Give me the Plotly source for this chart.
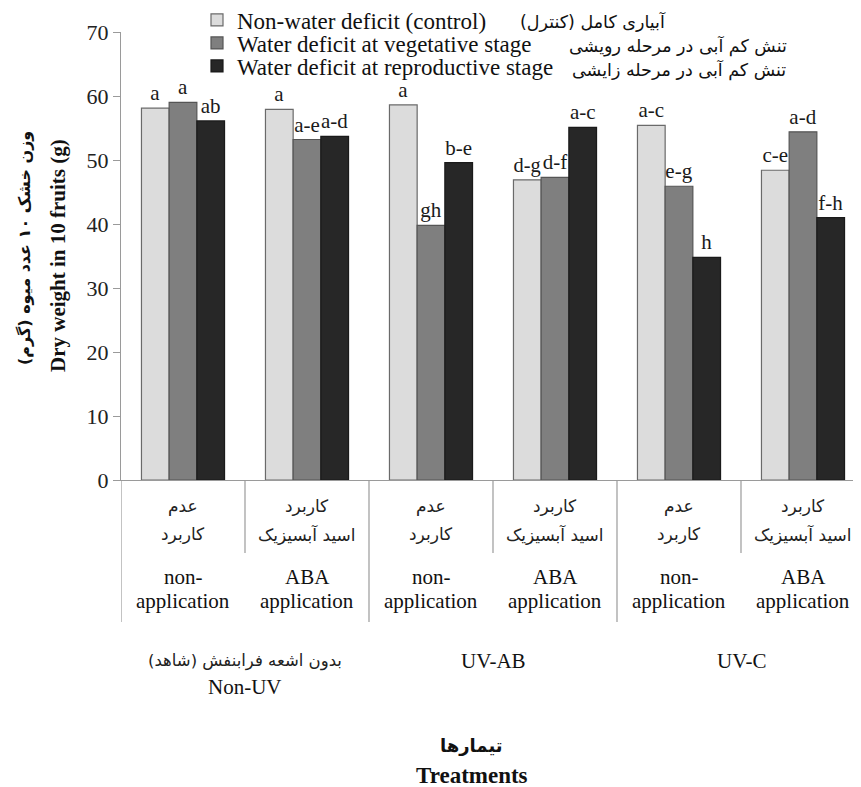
import plotly.graph_objects as go

# ---------------- data ----------------
groups_en = ["Non-UV", "UV-AB", "UV-C"]
groups_fa = ["بدون اشعه فرابنفش (شاهد)", "", ""]
sub_en = ["non-<br>application", "ABA<br>application",
          "non-<br>application", "ABA<br>application",
          "non-<br>application", "ABA<br>application"]
sub_fa = ["عدم<br>کاربرد", "کاربرد<br>اسید آبسیزیک",
          "عدم<br>کاربرد", "کاربرد<br>اسید آبسیزیک",
          "عدم<br>کاربرد", "کاربرد<br>اسید آبسیزیک"]

series_en = ["Non-water deficit (control)",
             "Water deficit at vegetative stage",
             "Water deficit at reproductive stage"]
series_fa = ["آبیاری کامل (کنترل)",
             "تنش کم آبی در مرحله رویشی",
             "تنش کم آبی در مرحله زایشی"]

control = [58.1, 57.9, 58.6, 46.9, 55.4, 48.4]
vegetative = [59.0, 53.2, 39.8, 47.3, 45.9, 54.4]
reproductive = [56.1, 53.7, 49.6, 55.1, 34.8, 41.0]

letters_control = ["a", "a", "a", "d-g", "a-c", "c-e"]
letters_vegetative = ["a", "a-e", "gh", "d-f", "e-g", "a-d"]
letters_reproductive = ["ab", "a-d", "b-e", "a-c", "h", "f-h"]

y_ticks = [0, 10, 20, 30, 40, 50, 60, 70]

y_title_en = "Dry weight in 10 fruits (g)"
y_title_fa = "وزن خشک ۱۰ عدد میوه (گرم)"
x_title_en = "Treatments"
x_title_fa = "تیمارها"

# ---------------- styling ----------------
SERIF = "Liberation Serif, Times New Roman, serif"
FA = "DejaVu Sans, Noto Sans, sans-serif"
colors = ["#DCDCDC", "#7F7F7F", "#272727"]
edge = ["#6A6A6A", "#555555", "#1A1A1A"]
AXIS = "#9A9A9A"

BODY = 8  # page margin of the browser
W, H = 861 - BODY, 787 - BODY
ML, MR, MT, MB = 121 - BODY, 0, 32 - BODY, 787 - 480
plot_w = W - ML - MR
plot_h = H - MT - MB
cat_px = 124.0

xpos = [i + 0.5 for i in range(len(control))]


def py(p):
    """reference pixel row -> paper y"""
    return (H - MB - (p - BODY)) / plot_h


def pxx(p):
    """reference pixel column -> paper x"""
    return (p - BODY - ML) / plot_w


fig = go.Figure()
legend_ids = ["legend", "legend2", "legend3"]
for vals, letters, name, c, e, lg in zip(
        [control, vegetative, reproductive],
        [letters_control, letters_vegetative, letters_reproductive],
        series_en, colors, edge, legend_ids):
    fig.add_trace(go.Bar(
        x=xpos, y=vals, name=name, text=letters, legend=lg,
        textposition="outside", cliponaxis=False,
        textfont=dict(family=SERIF, size=21, color="#1a1a1a"),
        marker=dict(color=c, line=dict(color=e, width=1.2)),
    ))

annotations = []
# sub-category labels (two lines each, placed separately)
for i in range(len(xpos)):
    for line, yy in zip(sub_fa[i].split("<br>"), [506, 534]):
        annotations.append(dict(x=xpos[i], y=py(yy), xref="x", yref="paper",
                                text=line, showarrow=False, yanchor="middle",
                                font=dict(family=FA, size=17, color="#222")))
    for line, yy in zip(sub_en[i].split("<br>"), [577, 601]):
        annotations.append(dict(x=xpos[i], y=py(yy), xref="x", yref="paper",
                                text=line, showarrow=False, yanchor="middle",
                                font=dict(family=SERIF, size=21, color="#111")))
# group labels
for g in range(len(groups_en)):
    gx = 2 * g + 1
    if groups_fa[g]:
        annotations.append(dict(x=gx, y=py(661), xref="x", yref="paper",
                                text=groups_fa[g], showarrow=False, yanchor="middle",
                                font=dict(family=FA, size=16.5, color="#222")))
        annotations.append(dict(x=gx, y=py(687), xref="x", yref="paper",
                                text=groups_en[g], showarrow=False, yanchor="middle",
                                font=dict(family=SERIF, size=21, color="#111")))
    else:
        annotations.append(dict(x=gx, y=py(661), xref="x", yref="paper",
                                text=groups_en[g], showarrow=False, yanchor="middle",
                                font=dict(family=SERIF, size=21, color="#111")))
# axis titles
annotations.append(dict(x=pxx(471), y=py(745), xref="paper", yref="paper",
                        text="<b>" + x_title_fa + "</b>", showarrow=False, yanchor="middle",
                        font=dict(family=FA, size=18, color="#111")))
annotations.append(dict(x=pxx(472), y=py(775), xref="paper", yref="paper",
                        text="<b>" + x_title_en + "</b>", showarrow=False, yanchor="middle",
                        font=dict(family=SERIF, size=23, color="#111")))
annotations.append(dict(x=pxx(58), y=py(256), xref="paper", yref="paper",
                        text="<b>" + y_title_en + "</b>", showarrow=False, textangle=-90,
                        xanchor="center", yanchor="middle",
                        font=dict(family=SERIF, size=21, color="#111")))
annotations.append(dict(x=pxx(25), y=py(248), xref="paper", yref="paper",
                        text="<b>" + y_title_fa + "</b>", showarrow=False, textangle=-90,
                        xanchor="center", yanchor="middle",
                        font=dict(family=FA, size=16, color="#111")))
# persian legend texts
for txt, lx, ly in zip(series_fa, [518, 567, 570], [21, 46, 70]):
    annotations.append(dict(x=pxx(lx), y=py(ly), xref="paper", yref="paper",
                            text=txt, showarrow=False, xanchor="left", yanchor="middle",
                            font=dict(family=FA, size=17.5, color="#111")))

# divider lines under the x axis
shapes = []
for k in range(0, 7):
    long_line = (k % 2 == 0)
    shapes.append(dict(type="line", xref="x", yref="paper", x0=k, x1=k,
                       y0=0, y1=py(622 if long_line else 553),
                       line=dict(color=AXIS, width=1.2)))

legend_style = dict(xanchor="left", yanchor="middle", bgcolor="rgba(0,0,0,0)",
                    font=dict(family=SERIF, size=23, color="#111"), itemwidth=30)

fig.update_layout(
    width=W, height=H,
    margin=dict(l=ML, r=MR, t=MT, b=MB, autoexpand=False),
    paper_bgcolor="white", plot_bgcolor="white",
    barmode="group", bargap=0.33, bargroupgap=0,
    showlegend=True,
    legend=dict(x=pxx(197), y=py(20), **legend_style),
    legend2=dict(x=pxx(197), y=py(43), **legend_style),
    legend3=dict(x=pxx(197), y=py(66), **legend_style),
    xaxis=dict(range=[0, plot_w / cat_px], showticklabels=False, showgrid=False,
               zeroline=False, showline=True, linecolor=AXIS, linewidth=1.2,
               ticks=""),
    yaxis=dict(range=[0, 70], tickvals=y_ticks, showgrid=False, zeroline=False,
               showline=True, linecolor=AXIS, linewidth=1.2,
               ticks="outside", ticklen=7, tickcolor=AXIS,
               tickfont=dict(family=SERIF, size=22, color="#222")),
    annotations=annotations, shapes=shapes,
)

fig.write_html("out.html")
